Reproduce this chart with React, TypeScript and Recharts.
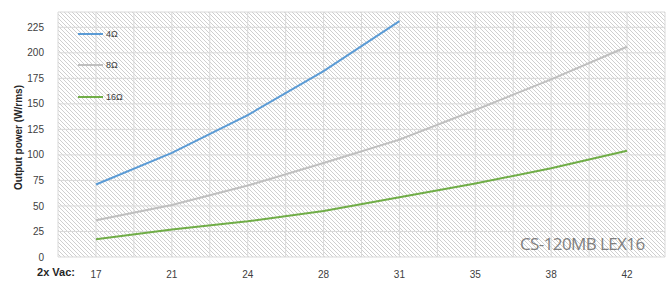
import React from 'react';
import { LineChart, Line, XAxis, YAxis, CartesianGrid } from 'recharts';

const voltages = ['17', '21', '24', '28', '31', '35', '38', '42'];
const power4 = [71, 102, 139, 182, 231, null, null, null];
const power8 = [36, 51, 70, 92, 115, 144, 174, 206];
const power16 = [17.5, 27, 35, 45, 58.5, 72, 87, 104];
const yTicks = [0, 25, 50, 75, 100, 125, 150, 175, 200, 225];

const SERIES = [
  { key: 'p4', name: '4Ω', color: '#5B9BD5' },
  { key: 'p8', name: '8Ω', color: '#BFBFBF' },
  { key: 'p16', name: '16Ω', color: '#70AD47' },
];

const data = voltages.map((v, i) => ({
  v,
  p4: power4[i],
  p8: power8[i],
  p16: power16[i],
}));

const FONT = '"Liberation Sans", Arial, sans-serif';

// grid on category centres and half-way between them (band layout of the plot area)
const verticalGen = ({ offset }: any) => {
  const half = offset.width / voltages.length / 2;
  const out: number[] = [];
  for (let k = 0; k <= voltages.length * 2; k++) out.push(offset.left + k * half);
  return out;
};

const YTitle = ({ viewBox }: any) => {
  const cy = viewBox.y + viewBox.height / 2 + 3;
  return (
    <text
      x={18}
      y={cy}
      transform={`rotate(-90, 18, ${cy})`}
      textAnchor="middle"
      dominantBaseline="central"
      fontSize={10}
      fontWeight="bold"
      fontFamily={FONT}
      fill="#262626"
    >
      Output power (W/rms)
    </text>
  );
};

const XTitle = () => (
  <text x={56} y={276} textAnchor="middle" fontSize={11} fontWeight="bold" fontFamily={FONT} fill="#262626">
    2x Vac:
  </text>
);

export default function App() {
  return (
    <div style={{ position: 'absolute', left: 0, top: 0, width: 668, height: 287, background: '#fff' }}>
      <LineChart width={668} height={287} data={data} margin={{ top: 12, right: 3, bottom: 0, left: 0 }}>
        <defs>
          <pattern id="hatch" width="4" height="4" patternUnits="userSpaceOnUse">
            <rect x="0" y="0" width="4" height="4" fill="#ffffff" />
            <rect x="0" y="0" width="1" height="1" fill="#cfcfcf" />
            <rect x="1" y="1" width="1" height="1" fill="#cfcfcf" />
            <rect x="2" y="2" width="1" height="1" fill="#cfcfcf" />
            <rect x="3" y="3" width="1" height="1" fill="#cfcfcf" />
          </pattern>
        </defs>
        <CartesianGrid
          fill="url(#hatch)"
          fillOpacity={1}
          stroke="#D9D9D9"
          verticalCoordinatesGenerator={verticalGen}
        />
        <XAxis
          dataKey="v"
          axisLine={false}
          tickLine={false}
          padding={{ left: 38, right: 38 }}
          height={30}
          tick={{ fill: '#404040', fontSize: 10, fontFamily: FONT }}
          tickMargin={8}
          label={<XTitle />}
        />
        <YAxis
          domain={[0, 240]}
          ticks={yTicks}
          width={58}
          axisLine={false}
          tickLine={false}
          tick={{ fill: '#404040', fontSize: 10, fontFamily: FONT }}
          tickMargin={8}
          label={<YTitle />}
        />
        {SERIES.map((s) => (
          <Line
            key={s.key}
            type="linear"
            dataKey={s.key}
            name={s.name}
            stroke={s.color}
            strokeWidth={2}
            dot={false}
            isAnimationActive={false}
          />
        ))}
      </LineChart>
      <div style={{ position: 'absolute', left: 78, top: 18, fontFamily: FONT, fontSize: 9, color: '#404040' }}>
        {SERIES.map((s) => (
          <div key={s.key} style={{ display: 'flex', alignItems: 'center', height: 31.5 }}>
            <span style={{ display: 'inline-block', width: 25, height: 2, background: s.color, marginRight: 3 }} />
            <span>{s.name}</span>
          </div>
        ))}
      </div>
      <div
        style={{
          position: 'absolute',
          left: 520,
          top: 232,
          fontFamily: '"Open Sans", sans-serif',
          fontSize: 17,
          color: '#7F7F7F',
          letterSpacing: -0.6,
          whiteSpace: 'nowrap',
        }}
      >
        CS-120MB LEX16
      </div>
    </div>
  );
}
